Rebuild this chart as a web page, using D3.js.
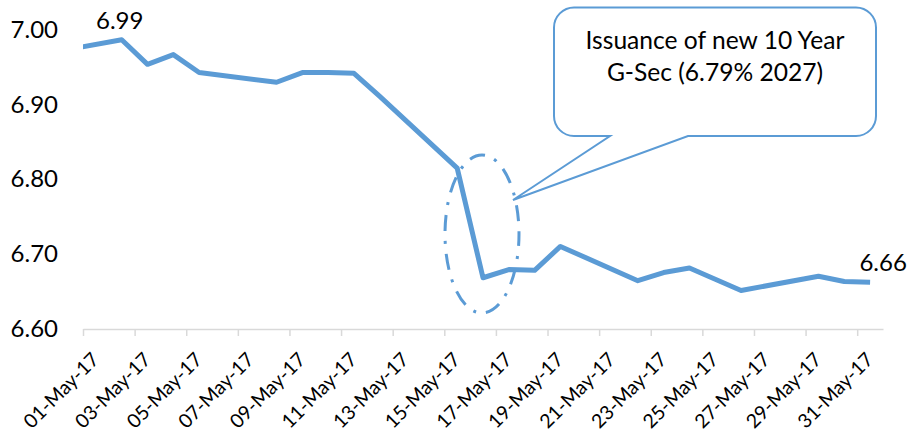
<!DOCTYPE html>
<html>
<head>
<meta charset="utf-8">
<script src="https://cdn.jsdelivr.net/npm/d3@7"></script>
<style>
  html, body { margin: 0; padding: 0; background: #fff; }
  svg { display: block; font-family: Lato, "Open Sans", sans-serif; }
</style>
</head>
<body>
<svg id="chart" width="908" height="437"></svg>
<script>
// Daily closing yield (%) of the 10-year G-Sec benchmark, 28 Apr - 31 May 2017
const dates = ["2017-04-28", "2017-05-02", "2017-05-03", "2017-05-04", "2017-05-05",
  "2017-05-08", "2017-05-09", "2017-05-10", "2017-05-11", "2017-05-12",
  "2017-05-15", "2017-05-16", "2017-05-17", "2017-05-18", "2017-05-19",
  "2017-05-22", "2017-05-23", "2017-05-24", "2017-05-25", "2017-05-26",
  "2017-05-29", "2017-05-30", "2017-05-31"];
const yields = [6.962, 6.987, 6.954, 6.967, 6.943,
  6.930, 6.943, 6.943, 6.942, 6.911,
  6.815, 6.668, 6.679, 6.678, 6.710,
  6.664, 6.675, 6.681, 6.666, 6.651,
  6.670, 6.663, 6.662];
const yTicks = [6.60, 6.70, 6.80, 6.90, 7.00];
const axisStart = "2017-05-01";
const axisEnd = "2017-06-01";
const labelledDates = ["2017-05-02", "2017-05-31"];
const calloutLines = ["Issuance of new 10 Year", "G-Sec (6.79% 2027)"];

const parse = d3.timeParse("%Y-%m-%d");
const data = dates.map((d, i) => ({ date: parse(d), value: yields[i] }));
const noon = d => d3.timeHour.offset(d, 12);

const W = 908, H = 437;
const plot = { left: 83, right: 883, top: 30, bottom: 328.5 };
const blue = "#5B9BD5";

const svg = d3.select("#chart");

const x = d3.scaleTime()
  .domain([parse(axisStart), parse(axisEnd)])
  .range([plot.left, plot.right]);
const y = d3.scaleLinear()
  .domain([d3.min(yTicks), d3.max(yTicks)])
  .range([plot.bottom, plot.top]);

// Y axis: labels only
const yAxis = svg.append("g")
  .attr("transform", `translate(58,0)`)
  .call(d3.axisLeft(y).tickValues(yTicks).tickSize(0).tickPadding(0)
    .tickFormat(d3.format(".2f")));
yAxis.select(".domain").remove();
yAxis.selectAll("text")
  .attr("font-family", "Lato, sans-serif")
  .attr("font-size", 24)
  .attr("fill", "#000");

// X axis: a tick every second day, labels slanted at 45 degrees
const tickDates = d3.timeDay.range(parse(axisStart), parse(axisEnd))
  .filter((d, i) => i % 2 === 0);
const xAxis = svg.append("g")
  .attr("transform", `translate(0,329)`)
  .call(d3.axisBottom(x).tickValues(tickDates).tickSize(7).tickSizeOuter(0)
    .tickFormat(d3.timeFormat("%d-%b-%y")));
xAxis.select(".domain").attr("stroke", "#D9D9D9").attr("stroke-width", 1.5);
xAxis.selectAll(".tick line").attr("stroke", "#D9D9D9").attr("stroke-width", 1.5);
xAxis.selectAll(".tick text")
  .attr("font-family", "Lato, sans-serif")
  .attr("font-size", 19.5)
  .attr("fill", "#000")
  .attr("text-anchor", "end")
  .attr("x", 0).attr("y", 0).attr("dy", "0.71em")
  .attr("transform", "translate(7,22) rotate(-45)");

// Yield line, clipped to the plot area
svg.append("clipPath").attr("id", "plot-clip")
  .append("rect")
  .attr("x", plot.left).attr("y", 0)
  .attr("width", plot.right - plot.left).attr("height", H);

const line = d3.line()
  .x(d => x(noon(d.date)))
  .y(d => y(d.value));

svg.append("path")
  .datum(data)
  .attr("clip-path", "url(#plot-clip)")
  .attr("fill", "none")
  .attr("stroke", blue)
  .attr("stroke-width", 5)
  .attr("stroke-linejoin", "round")
  .attr("d", line);

// Value labels on the early-May peak and the month-end close
const fmt = d3.format(".2f");
const lastDate = +data[data.length - 1].date;
labelledDates.forEach(ds => {
  const d = data.find(p => +p.date === +parse(ds));
  const dx = +d.date === lastDate ? 13 : -2;
  svg.append("text")
    .attr("font-size", 24)
    .attr("fill", "#000")
    .attr("text-anchor", "middle")
    .attr("x", x(noon(d.date)) + dx)
    .attr("y", y(d.value) - 11)
    .text(fmt(d.value));
});

// Dash-dot ellipse around the mid-May drop
svg.append("ellipse")
  .attr("cx", 482).attr("cy", 234)
  .attr("rx", 37).attr("ry", 79)
  .attr("fill", "none")
  .attr("stroke", blue)
  .attr("stroke-width", 3)
  .attr("stroke-dasharray", "16,10,3,10")
  .attr("stroke-dashoffset", 4);

// Callout box with pointer
const box = { x0: 554, x1: 876, y0: 7.5, y1: 136, r: 20 };
const tip = { x: 513, y: 200 };
const wedge = { a: 610, b: 688 };
const p = d3.path();
p.moveTo(box.x0 + box.r, box.y0);
p.lineTo(box.x1 - box.r, box.y0);
p.arcTo(box.x1, box.y0, box.x1, box.y0 + box.r, box.r);
p.lineTo(box.x1, box.y1 - box.r);
p.arcTo(box.x1, box.y1, box.x1 - box.r, box.y1, box.r);
p.lineTo(wedge.b, box.y1);
p.lineTo(tip.x, tip.y);
p.lineTo(wedge.a, box.y1);
p.lineTo(box.x0 + box.r, box.y1);
p.arcTo(box.x0, box.y1, box.x0, box.y1 - box.r, box.r);
p.lineTo(box.x0, box.y0 + box.r);
p.arcTo(box.x0, box.y0, box.x0 + box.r, box.y0, box.r);
p.closePath();
svg.append("path")
  .attr("d", p.toString())
  .attr("fill", "#fff")
  .attr("stroke", blue)
  .attr("stroke-width", 2)
  .attr("stroke-linejoin", "miter");

svg.append("text")
  .attr("font-size", 24.6)
  .attr("fill", "#000")
  .attr("text-anchor", "middle")
  .selectAll("tspan")
  .data(calloutLines)
  .join("tspan")
  .attr("x", 715)
  .attr("y", (d, i) => 49 + i * 31.5)
  .text(d => d);
</script>
</body>
</html>
